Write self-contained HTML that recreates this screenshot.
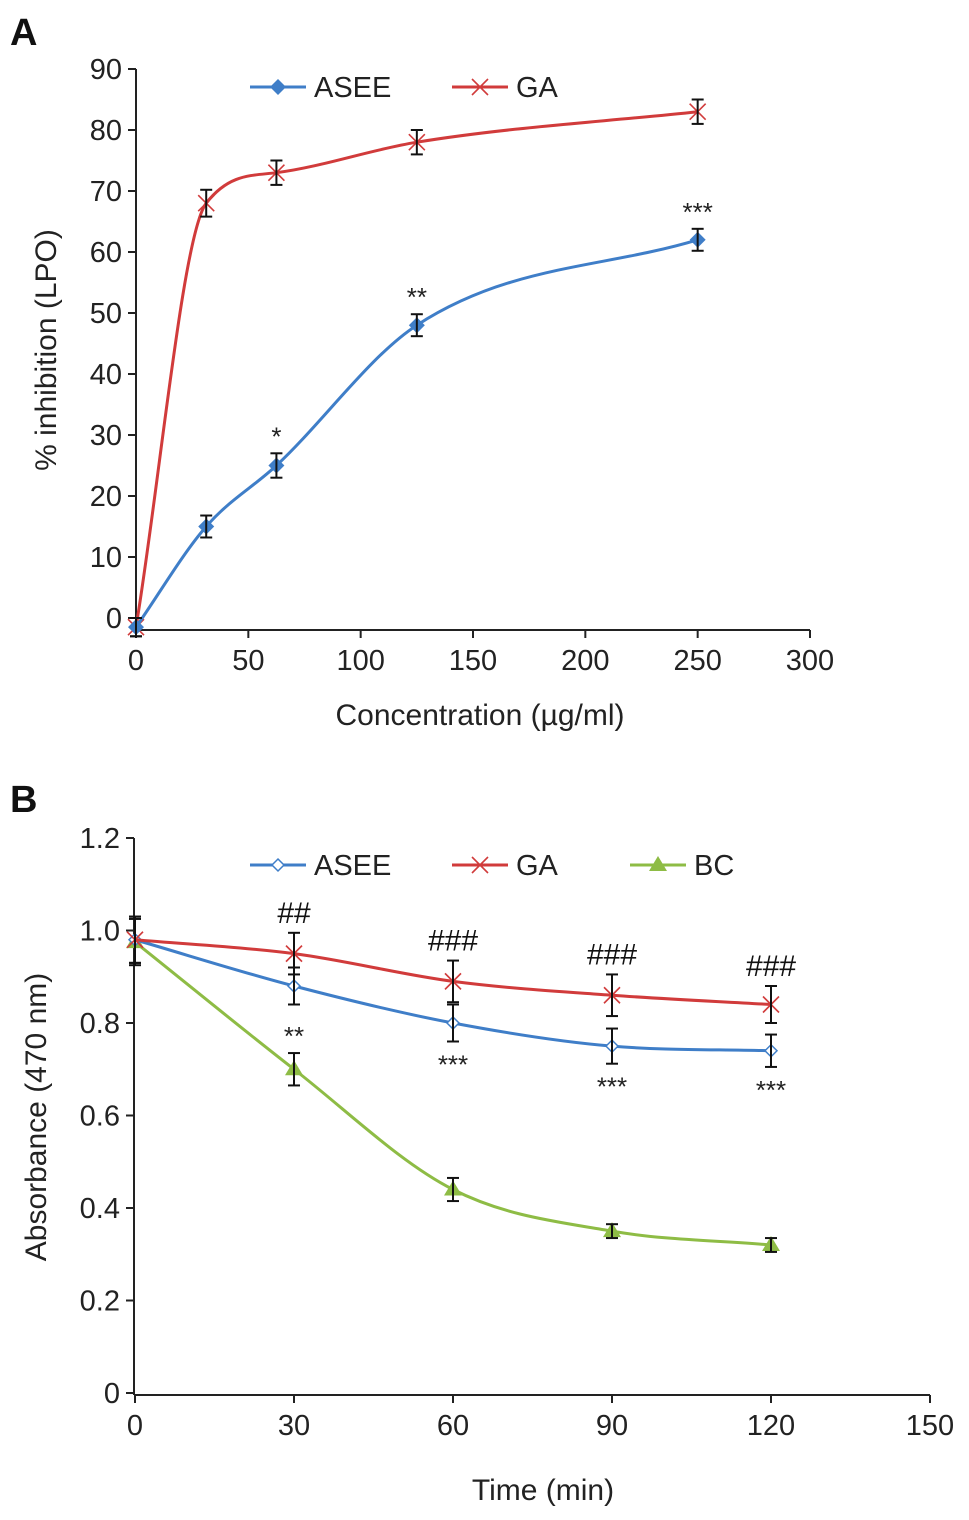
<!DOCTYPE html>
<html><head><meta charset="utf-8"><style>
body{margin:0;background:#fff;}
svg{display:block;font-family:"Liberation Sans",Arial,sans-serif;}
</style></head><body>
<svg id="root" width="969" height="1520" viewBox="0 0 969 1520"></svg>
<script>
// ---- Panel A data ----
const concA = [0, 31.25, 62.5, 125, 250];
const aseeA = [-1.5, 15, 25, 48, 62];
const aseeAErr = [1.5, 1.8, 2, 1.8, 1.8];
const gaA = [-1.5, 68, 73, 78, 83];
const gaAErr = [1.5, 2.2, 2, 2, 2];
const aseeAStars = ["", "", "*", "**", "***"];
const xTicksA = [0, 50, 100, 150, 200, 250, 300];
const yTicksA = [0, 10, 20, 30, 40, 50, 60, 70, 80, 90];
// ---- Panel B data ----
const timeB = [0, 30, 60, 90, 120];
const aseeB = [0.98, 0.88, 0.80, 0.75, 0.74];
const aseeBErr = [0.05, 0.04, 0.04, 0.038, 0.035];
const gaB = [0.98, 0.95, 0.89, 0.86, 0.84];
const gaBErr = [0.05, 0.045, 0.045, 0.045, 0.04];
const bcB = [0.975, 0.70, 0.44, 0.35, 0.32];
const bcBErr = [0.05, 0.035, 0.025, 0.015, 0.015];
const aseeBStars = ["", "", "***", "***", "***"];
const bcBStars = ["", "**", "", "", ""];
const gaBHash = ["", "##", "###", "###", "###"];
const xTicksB = [0, 30, 60, 90, 120, 150];
const yTicksB = [0, 0.2, 0.4, 0.6, 0.8, 1.0, 1.2];

const NS = "http://www.w3.org/2000/svg";
const root = document.getElementById("root");
function mk(tag, attrs, parent, text) {
  const e = document.createElementNS(NS, tag);
  for (const k in attrs) e.setAttribute(k, attrs[k]);
  if (text !== undefined) e.textContent = text;
  (parent || root).appendChild(e);
  return e;
}
// monotone cubic (Fritsch-Carlson) in pixel space
function smoothPath(pts) {
  const n = pts.length;
  const dx = [], s = [];
  for (let i = 0; i < n - 1; i++) { dx[i] = pts[i+1][0] - pts[i][0]; s[i] = (pts[i+1][1] - pts[i][1]) / dx[i]; }
  const m = [s[0]];
  for (let i = 1; i < n - 1; i++) m[i] = (s[i-1] * s[i] <= 0) ? 0 : (s[i-1] + s[i]) / 2;
  m[n-1] = s[n-2];
  for (let i = 0; i < n - 1; i++) {
    if (s[i] === 0) { m[i] = 0; m[i+1] = 0; continue; }
    const a = m[i] / s[i], b = m[i+1] / s[i], h = a*a + b*b;
    if (h > 9) { const t = 3 / Math.sqrt(h); m[i] = t*a*s[i]; m[i+1] = t*b*s[i]; }
  }
  let d = "M" + pts[0][0] + "," + pts[0][1];
  for (let i = 0; i < n - 1; i++) {
    const h = dx[i] / 3;
    d += " C" + (pts[i][0] + h) + "," + (pts[i][1] + m[i]*h) + " " + (pts[i+1][0] - h) + "," + (pts[i+1][1] - m[i+1]*h) + " " + pts[i+1][0] + "," + pts[i+1][1];
  }
  return d;
}
function errBar(g, x, y1, y2) {
  mk("line", {x1: x, x2: x, y1: y1, y2: y2, stroke: "#111", "stroke-width": 2}, g);
  mk("line", {x1: x - 6, x2: x + 6, y1: y1, y2: y1, stroke: "#111", "stroke-width": 2}, g);
  mk("line", {x1: x - 6, x2: x + 6, y1: y2, y2: y2, stroke: "#111", "stroke-width": 2}, g);
}
function marker(g, type, x, y, color) {
  if (type === "diamond") mk("path", {d: `M${x},${y-8}L${x+8},${y}L${x},${y+8}L${x-8},${y}Z`, fill: color}, g);
  else if (type === "odiamond") mk("path", {d: `M${x},${y-6}L${x+6},${y}L${x},${y+6}L${x-6},${y}Z`, fill: "#fff", stroke: color, "stroke-width": 1.5}, g);
  else if (type === "x") {
    mk("line", {x1: x - 8, x2: x + 8, y1: y - 8, y2: y + 8, stroke: color, "stroke-width": 1.6}, g);
    mk("line", {x1: x - 8, x2: x + 8, y1: y + 8, y2: y - 8, stroke: color, "stroke-width": 1.6}, g);
  } else if (type === "tri") mk("path", {d: `M${x},${y-9}L${x+9},${y+6}L${x-9},${y+6}Z`, fill: color}, g);
}
function series(g, name, xs, ys, errs, sx, sy, color, mtype) {
  const sg = mk("g", {}, g);
  
  
  const pts = xs.map((v, i) => [sx(v), sy(ys[i])]);
  mk("path", {d: smoothPath(pts), fill: "none", stroke: color, "stroke-width": 3}, sg);
  xs.forEach((v, i) => {
    marker(sg, mtype, sx(v), sy(ys[i]), color);
    errBar(sg, sx(v), sy(ys[i] + errs[i]), sy(ys[i] - errs[i]));
  });
}
function axes(g, xTicks, yTicks, sx, sy, x0, yAxisY, yTop, xRight, fmtY) {
  mk("line", {x1: x0, x2: x0, y1: yTop, y2: yAxisY, stroke: "#222", "stroke-width": 2}, g);
  mk("line", {x1: x0, x2: xRight, y1: yAxisY, y2: yAxisY, stroke: "#222", "stroke-width": 2}, g);
  yTicks.forEach(v => {
    const y = sy(v);
    mk("line", {x1: x0 - 8, x2: x0, y1: y, y2: y, stroke: "#222", "stroke-width": 2}, g);
    const t = mk("text", {x: x0 - 14, y: y + 10, "text-anchor": "end", "font-size": 29, fill: "#222"}, g, fmtY(v));
    
    
  });
  xTicks.forEach(v => {
    const x = sx(v);
    mk("line", {x1: x, x2: x, y1: yAxisY, y2: yAxisY + 8, stroke: "#222", "stroke-width": 2}, g);
    const t = mk("text", {x: x, y: yAxisY + 40, "text-anchor": "middle", "font-size": 29, fill: "#222"}, g, String(v));
    
    
  });
}
function legendItem(g, name, x, y, color, mtype, label) {
  const lg = mk("g", {}, g);
  
  
  mk("line", {x1: x, x2: x + 56, y1: y, y2: y, stroke: color, "stroke-width": 3}, lg);
  marker(lg, mtype, x + 28, y, color);
  mk("text", {x: x + 64, y: y + 10, "font-size": 29, fill: "#222"}, lg, label);
}

// ===== Panel A =====
const gA = mk("g", {});


mk("text", {x: 10, y: 45, "font-size": 38, "font-weight": "bold", fill: "#111"}, gA, "A");
const sxA = v => 136 + v * (674 / 300);
const syA = v => 618 - v * 6.1;
axes(gA, xTicksA, yTicksA, sxA, syA, 136, 630, 69, 810, v => String(v));
const yA = mk("text", {transform: "translate(56,350) rotate(-90)", "text-anchor": "middle", "font-size": 30, fill: "#222"}, gA, "% inhibition (LPO)");


const xA = mk("text", {x: 480, y: 725, "text-anchor": "middle", "font-size": 30, fill: "#222"}, gA, "Concentration (µg/ml)");


series(gA, "series-ga", concA, gaA, gaAErr, sxA, syA, "#d13b3b", "x");
series(gA, "series-asee", concA, aseeA, aseeAErr, sxA, syA, "#3f7ec8", "diamond");
concA.forEach((c, i) => {
  if (!aseeAStars[i]) return;
  const t = mk("text", {x: sxA(c), y: syA(aseeA[i] + aseeAErr[i]) - 8, "text-anchor": "middle", "font-size": 26, fill: "#222"}, gA, aseeAStars[i]);
  
  
});
legendItem(gA, "legend-asee", 250, 87, "#3f7ec8", "diamond", "ASEE");
legendItem(gA, "legend-ga", 452, 87, "#d13b3b", "x", "GA");

// ===== Panel B =====
const gB = mk("g", {});


mk("text", {x: 10, y: 812, "font-size": 38, "font-weight": "bold", fill: "#111"}, gB, "B");
const sxB = v => 135 + v * (795 / 150);
const syB = v => 1393 - v * (555 / 1.2);
axes(gB, xTicksB, yTicksB, sxB, syB, 134, 1395, 838, 930, v => v === 0 ? "0" : v.toFixed(1));
const yB = mk("text", {transform: "translate(46,1117) rotate(-90)", "text-anchor": "middle", "font-size": 30, fill: "#222"}, gB, "Absorbance (470 nm)");


const xB = mk("text", {x: 543, y: 1500, "text-anchor": "middle", "font-size": 30, fill: "#222"}, gB, "Time (min)");


series(gB, "series-bc", timeB, bcB, bcBErr, sxB, syB, "#8ebc45", "tri");
series(gB, "series-asee", timeB, aseeB, aseeBErr, sxB, syB, "#3f7ec8", "odiamond");
series(gB, "series-ga", timeB, gaB, gaBErr, sxB, syB, "#d13b3b", "x");
timeB.forEach((t, i) => {
  if (gaBHash[i]) {
    const e = mk("text", {x: sxB(t), y: syB(gaB[i] + gaBErr[i]) - 10, "text-anchor": "middle", "font-size": 30, fill: "#111"}, gB, gaBHash[i]);
    
    
  }
  if (aseeBStars[i]) {
    const e = mk("text", {x: sxB(t), y: syB(aseeB[i] - aseeBErr[i]) + 32, "text-anchor": "middle", "font-size": 26, fill: "#222"}, gB, aseeBStars[i]);
    
    
  }
  if (bcBStars[i]) {
    const e = mk("text", {x: sxB(t), y: syB(bcB[i] + bcBErr[i]) - 8, "text-anchor": "middle", "font-size": 26, fill: "#222"}, gB, bcBStars[i]);
    
    
  }
});
legendItem(gB, "legend-asee", 250, 865, "#3f7ec8", "odiamond", "ASEE");
legendItem(gB, "legend-ga", 452, 865, "#d13b3b", "x", "GA");
legendItem(gB, "legend-bc", 630, 865, "#8ebc45", "tri", "BC");
</script>
</body></html>
